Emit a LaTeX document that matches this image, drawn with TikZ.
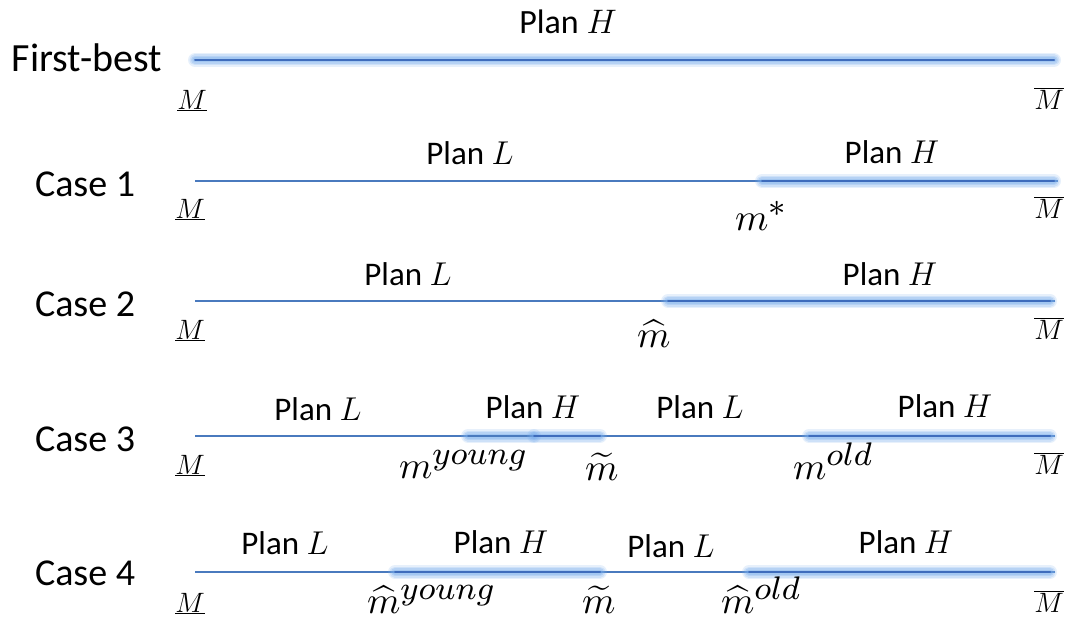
\documentclass[tikz,border=0pt]{standalone}
\usepackage{fix-cm}
\usepackage{graphicx}
\usepackage{fontspec}
\setmainfont{Carlito}
\DeclareMathSizes{10}{10}{8.6}{6.5}
\newcommand\cutmath[1]{\scalebox{3.8}{\fontsize{10}{10}\selectfont$#1$}}
\definecolor{axisblue}{RGB}{74,122,190}
\definecolor{glowblue}{RGB}{120,172,235}
\definecolor{coreblue}{RGB}{62,108,188}
\tikzset{
  every node/.style={inner sep=0pt, outer sep=0pt},
  rowname/.style={anchor=base west, font=\fontsize{38}{38}\selectfont},
  planlab/.style={anchor=base, font=\fontsize{33}{33}\selectfont},
  endlab/.style={anchor=base, font=\fontsize{28}{28}\selectfont},
  cutlab/.style={anchor=base west},
  axisline/.style={draw=axisblue, line width=1.5pt},
  halo/.style={line cap=round,
    preaction={draw=glowblue, opacity=0.18, line width=14pt, line cap=round},
    preaction={draw=glowblue, opacity=0.22, line width=11pt, line cap=round},
    preaction={draw=glowblue, opacity=0.28, line width=8pt, line cap=round},
    preaction={draw=glowblue, opacity=0.3, line width=5pt, line cap=round}},
  glowseg/.style={halo, draw=coreblue, line width=2pt},
  softseg/.style={halo, draw=axisblue, line width=1.5pt}
}
\begin{document}
\begin{tikzpicture}[x=1pt, y=-1pt]
\useasboundingbox (0,0) rectangle (1068,626);

% ---- First-best -------------------------------------------------
\node[rowname, font=\fontsize{40}{40}\selectfont] (fbname) at (12,71) {First-best};
\coordinate (fbA) at (195,60);
\coordinate (fbB) at (1054,60);
\draw[glowseg] (fbA) -- (fbB);
\node[planlab, font=\fontsize{34}{34}\selectfont] (fbH) at (568,34) {Plan $H$};
\node[endlab] (fbMlo) at (192,109) {$\underline{M}$};
\node[endlab] (fbMhi) at (1049,109) {$\overline{M}$};

% ---- Case 1 -----------------------------------------------------
\node[rowname] (c1name) at (35,196) {Case 1};
\coordinate (c1A) at (195,181);
\coordinate (c1B) at (1058,181);
\coordinate (c1s) at (762,181);
\coordinate (c1e) at (1054,181);
\draw[axisline] (c1A) -- (c1B);
\draw[glowseg] (c1s) -- (c1e);
\node[planlab] (c1L) at (470,164) {Plan $L$};
\node[planlab] (c1H) at (892,163) {Plan $H$};
\node[endlab] (c1Mlo) at (190,218) {$\underline{M}$};
\node[cutlab] (c1m) at (735,230) {\cutmath{m^{*}}};
\node[endlab] (c1Mhi) at (1049,218) {$\overline{M}$};

% ---- Case 2 -----------------------------------------------------
\node[rowname] (c2name) at (35,316) {Case 2};
\coordinate (c2A) at (195,301);
\coordinate (c2B) at (1055,301);
\coordinate (c2s) at (668,301);
\coordinate (c2e) at (1050,301);
\draw[axisline] (c2A) -- (c2B);
\draw[glowseg] (c2s) -- (c2e);
\node[planlab] (c2L) at (408,285) {Plan $L$};
\node[planlab] (c2H) at (890,285) {Plan $H$};
\node[endlab] (c2Mlo) at (190,339) {$\underline{M}$};
\node[cutlab] (c2m) at (637,347) {\cutmath{\widehat{m}}};
\node[endlab] (c2Mhi) at (1049,339) {$\overline{M}$};

% ---- Case 3 -----------------------------------------------------
\node[rowname] (c3name) at (35,451) {Case 3};
\coordinate (c3A) at (195,436);
\coordinate (c3B) at (1055,436);
\coordinate (c3s1) at (468,436);
\coordinate (c3e1) at (534,436);
\coordinate (c3s2) at (534,436);
\coordinate (c3e2) at (600,436);
\coordinate (c3s3) at (809,436);
\coordinate (c3e3) at (1050,436);
\draw[axisline] (c3A) -- (c3B);
\draw[softseg] (c3s1) -- (c3e1);
\draw[glowseg] (c3s2) -- (c3e2);
\draw[glowseg] (c3s3) -- (c3e3);
\node[planlab] (c3L1) at (318,420) {Plan $L$};
\node[planlab] (c3H1) at (533,418) {Plan $H$};
\node[planlab] (c3L2) at (700,418) {Plan $L$};
\node[planlab] (c3H2) at (945,417) {Plan $H$};
\node[endlab] (c3Mlo) at (190,474) {$\underline{M}$};
\node[cutlab] (c3my) at (399,478) {\cutmath{m^{young}}};
\node[cutlab] (c3mt) at (585,480) {\cutmath{\widetilde{m}}};
\node[cutlab] (c3mo) at (793,479) {\cutmath{m^{old}}};
\node[endlab] (c3Mhi) at (1049,474) {$\overline{M}$};

% ---- Case 4 -----------------------------------------------------
\node[rowname] (c4name) at (35,585) {Case 4};
\coordinate (c4A) at (195,572);
\coordinate (c4B) at (1055,572);
\coordinate (c4s1) at (395,572);
\coordinate (c4e1) at (600,572);
\coordinate (c4s2) at (749,572);
\coordinate (c4e2) at (1050,572);
\draw[axisline] (c4A) -- (c4B);
\draw[glowseg] (c4s1) -- (c4e1);
\draw[glowseg] (c4s2) -- (c4e2);
\node[planlab] (c4L1) at (285,554) {Plan $L$};
\node[planlab] (c4H1) at (501,553) {Plan $H$};
\node[planlab] (c4L2) at (671,557) {Plan $L$};
\node[planlab] (c4H2) at (906,553) {Plan $H$};
\node[endlab] (c4Mlo) at (190,612) {$\underline{M}$};
\node[cutlab] (c4my) at (367,613) {\cutmath{\widehat{m}^{young}}};
\node[cutlab] (c4mt) at (582,613) {\cutmath{\widetilde{m}}};
\node[cutlab] (c4mo) at (721,613) {\cutmath{\widehat{m}^{old}}};
\node[endlab] (c4Mhi) at (1049,612) {$\overline{M}$};
\end{tikzpicture}
\end{document}
